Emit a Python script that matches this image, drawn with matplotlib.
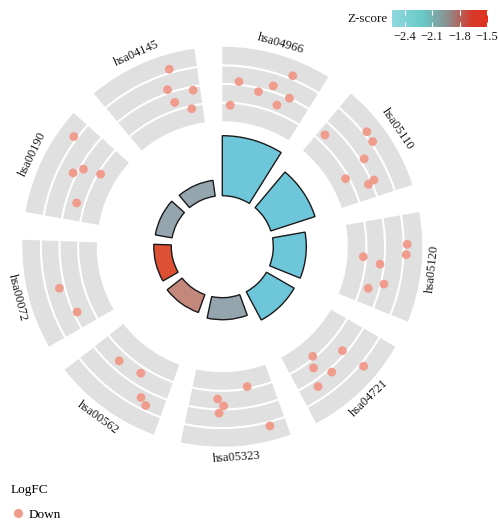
import numpy as np
import matplotlib
matplotlib.use("Agg")
import matplotlib.pyplot as plt
from matplotlib.colors import LinearSegmentedColormap, Normalize
from matplotlib.cm import ScalarMappable
from matplotlib.lines import Line2D

plt.rcParams.update({"font.family": "Liberation Serif", "font.size": 9})

# KEGG terms, clockwise from 12 o'clock
terms = ["hsa04966", "hsa05110", "hsa05120", "hsa04721", "hsa05323",
         "hsa00562", "hsa00072", "hsa00190", "hsa04145"]
neg_log_padj = [6.0, 4.65, 3.3, 3.2, 2.2, 1.9, 1.75, 1.7, 1.6]
zscore = [-2.35, -2.35, -2.35, -2.35, -2.05, -1.75, -1.55, -2.05, -2.05]

# genes in each term: logFC and relative position along the sector
gene_lfc = {
    "hsa04966": [-0.81, -1.83, -1.68, -2.19, -1.99, -3.13, -2.59],
    "hsa05110": [-2.59, -0.82, -0.89, -1.78, -3.18, -1.84, -2.21],
    "hsa05120": [-0.81, -0.85, -3.15, -2.22, -1.83, -2.59],
    "hsa04721": [-3.11, -2.21, -2.59, -1.80, -0.80, -1.64],
    "hsa05323": [-3.11, -2.56, -2.19, -1.80, -0.78],
    "hsa00562": [-2.48, -2.66, -1.54, -1.27],
    "hsa00072": [-1.71, -2.19],
    "hsa00190": [-0.81, -1.80, -2.20, -3.13, -2.57],
    "hsa04145": [-0.79, -1.81, -2.19, -2.58, -3.15],
}
gene_pos = {
    "hsa04966": [0.70, 0.18, 0.55, 0.41, 0.76, 0.10, 0.66],
    "hsa05110": [0.08, 0.36, 0.47, 0.57, 0.66, 0.82, 0.84],
    "hsa05120": [0.29, 0.39, 0.44, 0.51, 0.72, 0.81],
    "hsa04721": [0.64, 0.34, 0.72, 0.59, 0.32, 0.80],
    "hsa05323": [0.31, 0.68, 0.61, 0.66, 0.16],
    "hsa00562": [0.69, 0.40, 0.26, 0.18],
    "hsa00072": [0.49, 0.18],
    "hsa00190": [0.83, 0.51, 0.60, 0.65, 0.21],
    "hsa04145": [0.73, 0.65, 0.92, 0.68, 0.86],
}
zsc_ticks = [-2.4, -2.1, -1.8, -1.5]

# geometry (radius in pixels)
W, H = 498, 520
CX, CY, RMAX = 222.3, 246.7, 230
R_HOLE, BAR_SCALE = 51, 10
BAND_IN, BAND_OUT = 125.5, 200
LFC_MIN, LFC_MAX = -4, 0
STEP, SPAN = 40, 32
LABEL_R = 211
DOT = "#f09c8d"

zmin, zmax = -2.54, -1.49


def ramp(name, nodes):
    return LinearSegmentedColormap.from_list(
        name, [((z - zmin) / (zmax - zmin), c) for z, c in nodes])


cmap = ramp("zsc", [(-2.54, "#8fd8e0"), (-2.2, "#68c8c6"), (-1.93, "#8c8e8e"),
                    (-1.67, "#d63a2b"), (-1.49, "#e0301e")])
bar_cmap = ramp("zsc_bar", [(-2.54, "#6ec6da"), (-2.35, "#6ec6da"),
                            (-2.05, "#95a5ad"), (-1.75, "#c4877c"),
                            (-1.49, "#e4401f")])
norm = Normalize(zmin, zmax)


def lfc_radius(v):
    v = np.asarray(v, dtype=float)
    return BAND_IN + (v - LFC_MIN) / (LFC_MAX - LFC_MIN) * (BAND_OUT - BAND_IN)


fig = plt.figure(figsize=(W / 100, H / 100), dpi=100)
ax = fig.add_axes([(CX - RMAX) / W, 1 - (CY + RMAX) / H, 2 * RMAX / W, 2 * RMAX / H],
                  projection="polar")
ax.set_theta_zero_location("N")
ax.set_theta_direction(-1)
ax.set_ylim(0, RMAX)
ax.set_axis_off()

n = len(terms)
start = np.deg2rad(np.arange(n) * STEP)
span = np.deg2rad(SPAN)

# outer grey blocks with white logFC gridlines
ax.bar(start, BAND_OUT - BAND_IN, width=span, bottom=BAND_IN, align="edge",
       color="#e0e0e0", lw=0, zorder=1)
th = np.linspace(0, 2 * np.pi, 720)
for v in range(LFC_MIN + 1, LFC_MAX):
    ax.plot(th, np.full_like(th, lfc_radius(v)), color="white", lw=1.5, zorder=2)

# inner bars: significance, coloured by z-score
ax.bar(start, np.array(neg_log_padj) * BAR_SCALE, width=span, bottom=R_HOLE,
       align="edge", color=bar_cmap(norm(zscore)), edgecolor="#1a1a1a", lw=1.0,
       zorder=3)

# genes
for i, t in enumerate(terms):
    ang = start[i] + np.array(gene_pos[t]) * span
    ax.scatter(ang, lfc_radius(gene_lfc[t]), s=40, color=DOT, edgecolors="none",
               zorder=4, clip_on=False)

# term labels
for i, t in enumerate(terms):
    mid = i * STEP + SPAN / 2
    rot = -mid if np.cos(np.deg2rad(mid)) > 0 else 180 - mid
    ax.text(np.deg2rad(mid), LABEL_R, t, rotation=rot, rotation_mode="anchor",
            ha="center", va="center", fontsize=9, color="#1a1a1a", clip_on=False)

# z-score colour bar
cax = fig.add_axes([392 / W, 1 - 27 / H, 96 / W, 17 / H])
cb = fig.colorbar(ScalarMappable(norm, cmap), cax=cax, orientation="horizontal",
                  ticks=zsc_ticks)
cb.outline.set_visible(False)
cax.tick_params(direction="in", color="white", length=3.5, width=0.8,
                top=True, bottom=True, labelsize=9, pad=3, labelcolor="#1a1a1a")
fig.text(388 / W, 1 - 18.5 / H, "Z-score", ha="right", va="center", fontsize=9.5,
         color="#1a1a1a")

# logFC legend
handle = Line2D([], [], ls="none", marker="o", ms=6.6, mfc=DOT, mec="none")
fig.legend([handle], ["Down"], title="LogFC", loc="lower left",
           bbox_to_anchor=(11 / W, -1 / H), frameon=False, alignment="left",
           handlelength=1.0, handletextpad=0.35, borderpad=0, borderaxespad=0,
           labelspacing=0.95, fontsize=9.5, title_fontsize=9.5)

fig.savefig("out.png", dpi=100)
